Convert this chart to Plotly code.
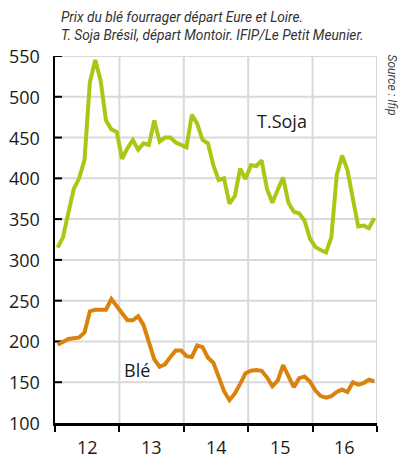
import plotly.graph_objects as go

# Monthly prices, Jan 2012 .. Dec 2016 (EUR/t)
months = [2012 + (m + 0.5) / 12 for m in range(60)]

soja = [315, 328, 358, 387, 400, 423, 518, 545, 520, 471, 460, 457,
        424, 437, 447, 435, 443, 441, 471, 445, 450, 450, 444, 441,
        438, 478, 467, 447, 443, 416, 398, 400, 369, 378, 412, 399,
        416, 415, 422, 387, 370, 386, 401, 370, 359, 357, 348, 326,
        316, 312, 309, 328, 404, 428, 410, 375, 341, 342, 339, 351]

ble = [196, 200, 203, 204, 205, 211, 237, 239, 239, 239, 252, 243,
       235, 226, 226, 231, 220, 200, 178, 169, 172, 181, 189, 189,
       182, 181, 195, 193, 180, 174, 156, 139, 128, 136, 148, 161,
       164, 165, 164, 156, 145, 152, 171, 156, 144, 155, 157, 151,
       140, 133, 131, 133, 138, 141, 138, 150, 147, 149, 153, 151]

year_bounds = [2012, 2013, 2014, 2015, 2016, 2017]
year_pos = [2012.5, 2013.5, 2014.5, 2015.5, 2016.5]
year_labels = ["12", "13", "14", "15", "16"]
y_ticks = [100, 150, 200, 250, 300, 350, 400, 450, 500, 550]

X_RANGE = [year_bounds[0], year_bounds[-1]]
Y_RANGE = [y_ticks[0], y_ticks[-1]]

GREEN = "#a8c814"
ORANGE = "#d9820e"
GRID = "#d9d9d9"
TXT = "#1a1a1a"

# grid lines built from the tick lists (horizontal + vertical)
gx, gy = [], []
for v in y_ticks[1:]:
    gx += [X_RANGE[0], X_RANGE[1], None]
    gy += [v, v, None]
for b in year_bounds[1:]:
    gx += [b, b, None]
    gy += [Y_RANGE[0], Y_RANGE[1], None]

# inward tick marks on the value axis
tick_len = (X_RANGE[1] - X_RANGE[0]) * 7 / 322
tx, ty = [], []
for v in y_ticks[1:]:
    tx += [X_RANGE[0], X_RANGE[0] + tick_len, None]
    ty += [v, v, None]

fig = go.Figure()
fig.add_trace(go.Scatter(x=gx, y=gy, mode="lines", hoverinfo="skip",
                         line=dict(color=GRID, width=2), cliponaxis=False))
fig.add_trace(go.Scatter(x=tx, y=ty, mode="lines", hoverinfo="skip",
                         line=dict(color="black", width=2), cliponaxis=False))
fig.add_trace(go.Scatter(x=months, y=soja, mode="lines", name="T.Soja",
                         line=dict(color=GREEN, width=4)))
fig.add_trace(go.Scatter(x=months, y=ble, mode="lines", name="Blé",
                         line=dict(color=ORANGE, width=4)))

fig.update_layout(
    template="none",
    width=403, height=456,
    margin=dict(l=55, r=26, t=56, b=33),
    paper_bgcolor="white", plot_bgcolor="white",
    showlegend=False,
    font=dict(family="Open Sans", color=TXT),
)

fig.update_xaxes(
    range=X_RANGE,
    tickmode="array", tickvals=year_bounds, showticklabels=False,
    ticks="outside", ticklen=6, tickwidth=2, tickcolor="black",
    showgrid=False,
    showline=True, linecolor="black", linewidth=2.5,
    zeroline=False,
)

fig.update_yaxes(
    range=Y_RANGE,
    tickmode="array", tickvals=y_ticks, showticklabels=False,
    ticks="", showgrid=False,
    showline=True, linecolor="black", linewidth=2,
    zeroline=False,
)

# y tick labels
for v in y_ticks:
    fig.add_annotation(text=str(v), x=-(55 - 42) / 322, xref="paper", y=v, yref="y",
                       xanchor="right", yanchor="middle", showarrow=False,
                       font=dict(size=18, color=TXT))

# year labels centred in each year
for xp, lab in zip(year_pos, year_labels):
    fig.add_annotation(text=lab, x=xp, xref="x", y=-(447 - 423) / 367, yref="paper",
                       xanchor="center", yanchor="middle", showarrow=False,
                       font=dict(size=18, color=TXT))

fig.add_annotation(
    text="Prix du blé fourrager départ Eure et Loire.<br>T. Soja Brésil, départ Montoir. IFIP/Le Petit Meunier.",
    xref="paper", yref="paper", x=(59 - 55) / 322, y=1 + (56 - 7) / 367,
    xanchor="left", yanchor="top", align="left", showarrow=False,
    font=dict(family="Roboto", size=13.7, color="#333333", style="italic"),
)
fig.add_annotation(
    text="Source : Ifip", textangle=90,
    xref="paper", yref="paper", x=1 + (392 - 377) / 322, y=1 + (56 - 52) / 367,
    xanchor="center", yanchor="top", showarrow=False,
    font=dict(family="Roboto", size=12, color="#444444", style="italic"),
)
fig.add_annotation(text="T.Soja", x=2015.52, y=470, showarrow=False,
                   font=dict(size=18, color=TXT))
fig.add_annotation(text="Blé", x=2013.27, y=165, showarrow=False,
                   font=dict(size=18, color=TXT))

fig.write_html("out.html", config={"displayModeBar": False},
               post_script="document.body.style.margin='0';")
